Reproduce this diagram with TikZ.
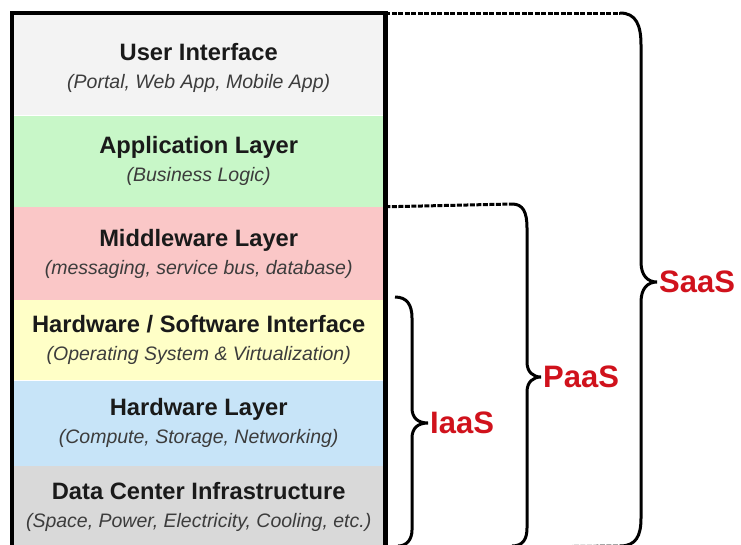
\documentclass[tikz,border=0pt]{standalone}
\usepackage{fontspec}
\setmainfont{Liberation Sans}
\usepackage{tikz}
\usetikzlibrary{positioning}

\definecolor{uifill}{RGB}{243,243,243}
\definecolor{appfill}{RGB}{200,247,200}
\definecolor{midfill}{RGB}{250,199,199}
\definecolor{hwswfill}{RGB}{255,255,199}
\definecolor{hwfill}{RGB}{199,228,248}
\definecolor{dcfill}{RGB}{217,217,217}
\definecolor{tagred}{RGB}{208,18,28}
\definecolor{ink}{RGB}{26,26,26}

\newcommand{\subline}[1]{{\fontsize{19.5}{28}\selectfont\mdseries\itshape\color{ink!85} #1}}

\tikzset{
  layer/.style={rectangle, inner sep=0pt, minimum width=373pt, align=center,
    text=ink, font=\fontsize{23.7}{28}\selectfont\bfseries},
  dotline/.style={line width=3pt, dash pattern=on 5pt off 1.5pt},
  brace/.style={line width=3pt},
  tag/.style={text=tagred, inner sep=2pt, anchor=west, font=\fontsize{31}{35}\selectfont\bfseries}
}

\begin{document}
\begin{tikzpicture}[x=1pt,y=-1pt]
\useasboundingbox (0,0) rectangle (741,544);
\clip (0,0) rectangle (741,544);

\node[layer, fill=uifill, minimum height=102pt, anchor=north west] (ui) at (12,13)
  {\rule{0pt}{25pt}User Interface\\\subline{(Portal, Web App, Mobile App)}};
\node[layer, fill=appfill, minimum height=91pt, below=0pt of ui] (app)
  {Application Layer\\\subline{(Business Logic)}};
\node[layer, fill=midfill, minimum height=93pt, below=0pt of app] (mid)
  {Middleware Layer\\\subline{(messaging, service bus, database)}};
\node[layer, fill=hwswfill, minimum height=80pt, below=0pt of mid] (hwsw)
  {Hardware / Software Interface\\\subline{(Operating System \& Virtualization)}};
\node[layer, fill=hwfill, minimum height=85pt, below=0pt of hwsw] (hw)
  {Hardware Layer\\\subline{(Compute, Storage, Networking)}};
\node[layer, fill=dcfill, minimum height=82pt, below=0pt of hw] (dc)
  {Data Center Infrastructure\\\subline{(Space, Power, Electricity, Cooling, etc.)}};
\draw[line width=4.5pt] (ui.north west) rectangle (dc.south east);

\node[tag] (saas) at (657,282) {SaaS};
\node[tag] (paas) at (541,377) {PaaS};
\node[tag] (iaas) at (428,423) {IaaS};

\coordinate (saastop) at (620,13);
\coordinate (saasbot) at (620,546);
\coordinate (paastop) at (512,204);
\coordinate (paasbot) at (512,546);
\coordinate (iaastop) at (395,297);
\coordinate (iaasbot) at (398,546);

\draw[dotline] (ui.north east) -- (saastop);
\draw[dotline] (mid.north east) -- (paastop);
\draw[dotline] (dc.south east) -- (saasbot);

\draw[brace] (saastop) .. controls (636,13) and (641,25) .. (641,45) -- (641,262)
  .. controls (641,276) and (648,282) .. (saas.west)
  .. controls (648,282) and (641,288) .. (641,302) -- (641,518)
  .. controls (641,536) and (636,546) .. (saasbot);
\draw[brace] (paastop) .. controls (523,204) and (527,212) .. (527,228) -- (527,362)
  .. controls (527,372) and (533,377) .. (paas.west)
  .. controls (533,377) and (527,382) .. (527,392) -- (527,528)
  .. controls (527,539) and (523,546) .. (paasbot);
\draw[brace] (iaastop) .. controls (407,297) and (412,305) .. (412,318) -- (412,408)
  .. controls (412,418) and (418,423) .. (iaas.west)
  .. controls (418,423) and (412,428) .. (412,438) -- (412,530)
  .. controls (412,539) and (407,546) .. (iaasbot);

\end{tikzpicture}
\end{document}
